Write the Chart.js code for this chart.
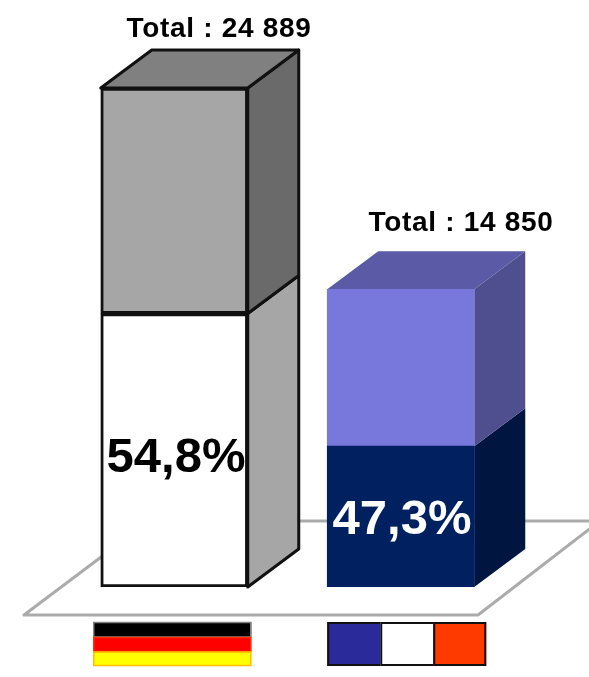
<!DOCTYPE html>
<html><head><meta charset="utf-8">
<style>html,body{margin:0;padding:0;background:#fff}canvas{display:block}</style>
<script src="https://cdn.jsdelivr.net/npm/chart.js@4"></script></head>
<body><div style="width:589px;height:677px"><canvas id="c"></canvas></div>
<script>
const categories = ["Allemagne", "France"];
const lowerValues = [13639, 7024];
const upperValues = [11250, 7826];
const totalLabels = ["Total : 24 889", "Total : 14 850"];
const shareLabels = ["54,8%", "47,3%"];
const lowerFront = ["#ffffff", "#002060"];
const upperFront = ["#a6a6a6", "#7878dc"];
const lowerSide = ["#a6a6a6", "#001540"];
const upperSide = ["#6a6a6a", "#4f4f8f"];
const topFace = ["#808080", "#5a5aa6"];
const edgeColors = ["#111111", null];
const shareColors = ["#000000", "#ffffff"];
const DX = 51, DY = 38;
const FONT = '"Liberation Sans", Arial, sans-serif';

function poly(ctx, pts, fill, stroke, lw) {
  ctx.beginPath();
  pts.forEach((p, i) => i ? ctx.lineTo(p[0], p[1]) : ctx.moveTo(p[0], p[1]));
  ctx.closePath();
  if (fill) { ctx.fillStyle = fill; ctx.fill(); }
  if (stroke) { ctx.strokeStyle = stroke; ctx.lineWidth = lw; ctx.lineJoin = "round"; ctx.stroke(); }
}

const box3d = {
  id: "box3d",
  beforeDatasetsDraw(chart) {
    const ctx = chart.ctx, low = chart.getDatasetMeta(0).data, up = chart.getDatasetMeta(1).data;
    ctx.save();
    // floor
    const by = low[0].base;
    poly(ctx, [[24, by + 28], [478, by + 28], [600, by - 66], [149, by - 66]], "#ffffff", "#ababab", 3);
    categories.forEach((c, i) => {
      const L = low[i], U = up[i];
      const x1 = L.x - L.width / 2, x2 = L.x + L.width / 2;
      const e = edgeColors[i], lw = 3;
      poly(ctx, [[x2, L.base], [x2 + DX, L.base - DY], [x2 + DX, L.y - DY], [x2, L.y]], lowerSide[i], e, lw);
      poly(ctx, [[x2, L.y], [x2 + DX, L.y - DY], [x2 + DX, U.y - DY], [x2, U.y]], upperSide[i], e, lw);
      poly(ctx, [[x1, U.y], [x1 + DX, U.y - DY], [x2 + DX, U.y - DY], [x2, U.y]], topFace[i], e, lw);
    });
    ctx.restore();
  },
  afterDatasetsDraw(chart) {
    const ctx = chart.ctx, low = chart.getDatasetMeta(0).data;
    ctx.save();
    ctx.textAlign = "center";
    ctx.textBaseline = "alphabetic";
    const xs = [219, 461], ty = [37, 231], sy = [472, 534], sx = [176, 402];
    categories.forEach((c, i) => {
      ctx.fillStyle = "#000";
      ctx.font = "bold 28px " + FONT;
      ctx.letterSpacing = "0.7px";
      ctx.fillText(totalLabels[i], xs[i], ty[i]);
      ctx.letterSpacing = "0px";
      ctx.fillStyle = shareColors[i];
      ctx.font = "bold 49px " + FONT;
      ctx.fillText(shareLabels[i], sx[i], sy[i]);
    });
    // flags
    const g = low[0].x - 81, gy = 622;
    ctx.fillStyle = "#000000"; ctx.fillRect(g, gy, 158, 15);
    ctx.fillStyle = "#ff0000"; ctx.fillRect(g, gy + 15, 158, 15);
    ctx.fillStyle = "#ffff00"; ctx.fillRect(g, gy + 30, 158, 14);
    ctx.lineWidth = 1.5;
    ctx.strokeStyle = "#808080"; ctx.strokeRect(g + .5, gy + .5, 157, 14.5);
    ctx.strokeStyle = "#ff3300"; ctx.strokeRect(g + .5, gy + 15.5, 157, 14);
    ctx.strokeStyle = "#ffc000"; ctx.strokeRect(g + .5, gy + 30, 157, 13.5);
    const f = low[1].x - 73.5, w = 53;
    ["#2a2a9a", "#ffffff", "#ff3a00"].forEach((col, k) => {
      ctx.fillStyle = col; ctx.fillRect(f + k * w, gy, w, 44);
      ctx.strokeStyle = "#111"; ctx.lineWidth = 2; ctx.strokeRect(f + k * w + 1, gy + 1, w - (k === 2 ? 2 : 0), 42);
    });
    ctx.restore();
  }
};

new Chart(document.getElementById("c"), {
  type: "bar",
  data: {
    labels: categories,
    datasets: [
      { data: lowerValues, backgroundColor: lowerFront, borderColor: ["#111111", "#002060"], borderWidth: [3, 0], borderSkipped: false, barThickness: 147 },
      { data: upperValues, backgroundColor: upperFront, borderColor: ["#111111", "#7878dc"], borderWidth: [3, 0], borderSkipped: false, barThickness: 147 }
    ]
  },
  options: {
    responsive: true, maintainAspectRatio: false, animation: false,
    layout: { padding: { left: 61, right: 75, top: 0, bottom: 90 } },
    plugins: { legend: { display: false }, tooltip: { enabled: false } },
    scales: {
      x: { display: false, stacked: true },
      y: { display: false, stacked: true, min: 0, max: 29280 }
    }
  },
  plugins: [box3d]
});
</script></body></html>
